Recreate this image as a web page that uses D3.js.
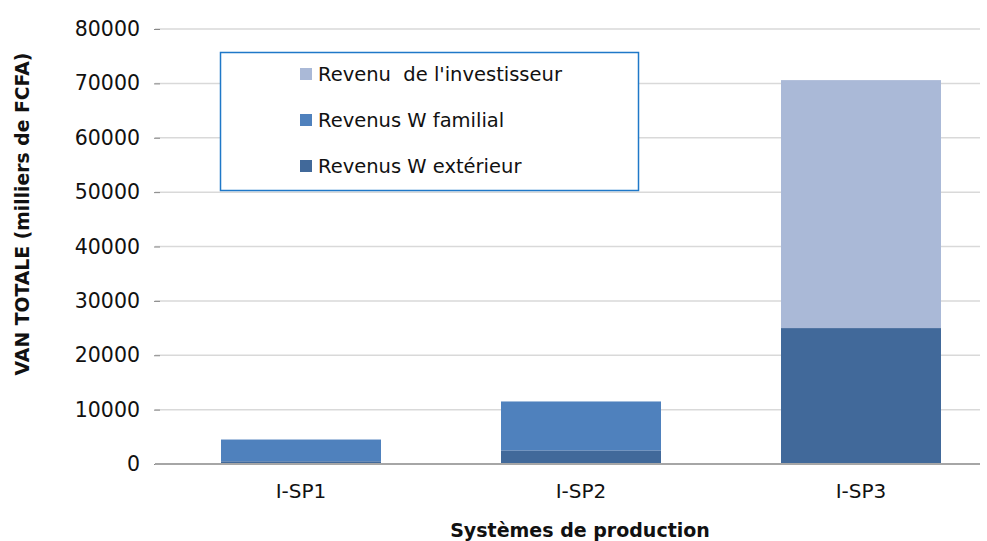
<!DOCTYPE html>
<html>
<head>
<meta charset="utf-8">
<script src="https://cdn.jsdelivr.net/npm/d3@7"></script>
<style>
  body { margin: 0; background: #fff; }
  text { font-family: "DejaVu Sans", sans-serif; fill: #111; }
</style>
</head>
<body>
<script>
// chart data
const systems = ['I-SP1', 'I-SP2', 'I-SP3'];
const revExterieur = [500, 2500, 25000];
const revFamilial = [4000, 9000, 0];
const revInvestisseur = [0, 0, 45600];
const seriesNames = ['Revenus W extérieur', 'Revenus W familial', "Revenu  de l'investisseur"];
const yTicks = [0, 10000, 20000, 30000, 40000, 50000, 60000, 70000, 80000];

const colors = ['#41699a', '#4f81bd', '#aab9d7'];
const width = 987;
const height = 541;

const svg = d3.select('body').append('svg')
  .attr('width', width)
  .attr('height', height);

// scales
const xscale = d3.scaleBand().domain(systems).range([161, 1001]).paddingInner(0.4286).paddingOuter(0.2143);
const yscale = d3.scaleLinear().domain([0, 80000]).range([464, 29]);

// gridlines
svg.append('g').selectAll('line').data(yTicks.slice(1)).join('line')
  .attr('x1', 155).attr('x2', 980)
  .attr('y1', d => yscale(d)).attr('y2', d => yscale(d))
  .attr('stroke', '#d9d9d9').attr('stroke-width', 1.5);

// stacked data
const table = systems.map((s, i) => ({
  key: s, ext: revExterieur[i], fam: revFamilial[i], inv: revInvestisseur[i],
}));
const stack = d3.stack().keys(['ext', 'fam', 'inv'])(table);

svg.append('g').selectAll('g').data(stack).join('g')
  .attr('fill', (d, i) => colors[i])
  .selectAll('rect').data(d => d).join('rect')
  .attr('x', d => xscale(d.data.key))
  .attr('width', xscale.bandwidth())
  .attr('y', d => yscale(d[1]))
  .attr('height', d => yscale(d[0]) - yscale(d[1]));

// y axis
const yAxis = d3.axisLeft(yscale).tickValues(yTicks).tickSize(6).tickPadding(14).tickFormat(d3.format('d'));
const gy = svg.append('g').attr('transform', 'translate(160,0)').call(yAxis);
gy.select('.domain').remove();
gy.selectAll('line').attr('stroke', '#888');
gy.selectAll('text').style('font-size', '20.5px');

// x axis
const xAxis = d3.axisBottom(xscale).tickSize(0).tickPadding(20);
const gx = svg.append('g').attr('transform', 'translate(0,464)').call(xAxis);
gx.select('.domain').remove();
gx.selectAll('text').style('font-size', '20px');
svg.append('line')
  .attr('x1', 155).attr('x2', 980).attr('y1', 464).attr('y2', 464)
  .attr('stroke', '#a6a6a6').attr('stroke-width', 2);

// axis titles
svg.append('text')
  .attr('transform', 'translate(29,214) rotate(-90)')
  .attr('text-anchor', 'middle')
  .style('font-size', '18.8px').style('font-weight', 'bold')
  .text('VAN TOTALE (milliers de FCFA)');
svg.append('text')
  .attr('x', 580).attr('y', 537)
  .attr('text-anchor', 'middle')
  .style('font-size', '19px').style('font-weight', 'bold')
  .text('Systèmes de production');

// legend
const legend = svg.append('g');
legend.append('rect')
  .attr('x', 220.5).attr('y', 52.5).attr('width', 418).attr('height', 138)
  .attr('fill', '#fff').attr('stroke', '#1f78c8').attr('stroke-width', 1.5);
const legendOrder = [2, 1, 0];
const items = legend.selectAll('g.item').data(legendOrder).join('g')
  .attr('class', 'item')
  .attr('transform', (d, i) => `translate(300,${74 + i * 46})`);
items.append('rect')
  .attr('x', 0).attr('y', -6).attr('width', 12).attr('height', 12)
  .attr('fill', d => colors[d]);
items.append('text')
  .attr('x', 18).attr('y', 7)
  .attr('xml:space', 'preserve')
  .style('white-space', 'pre')
  .style('font-size', '19.5px')
  .text(d => seriesNames[d]);
</script>
</body>
</html>
